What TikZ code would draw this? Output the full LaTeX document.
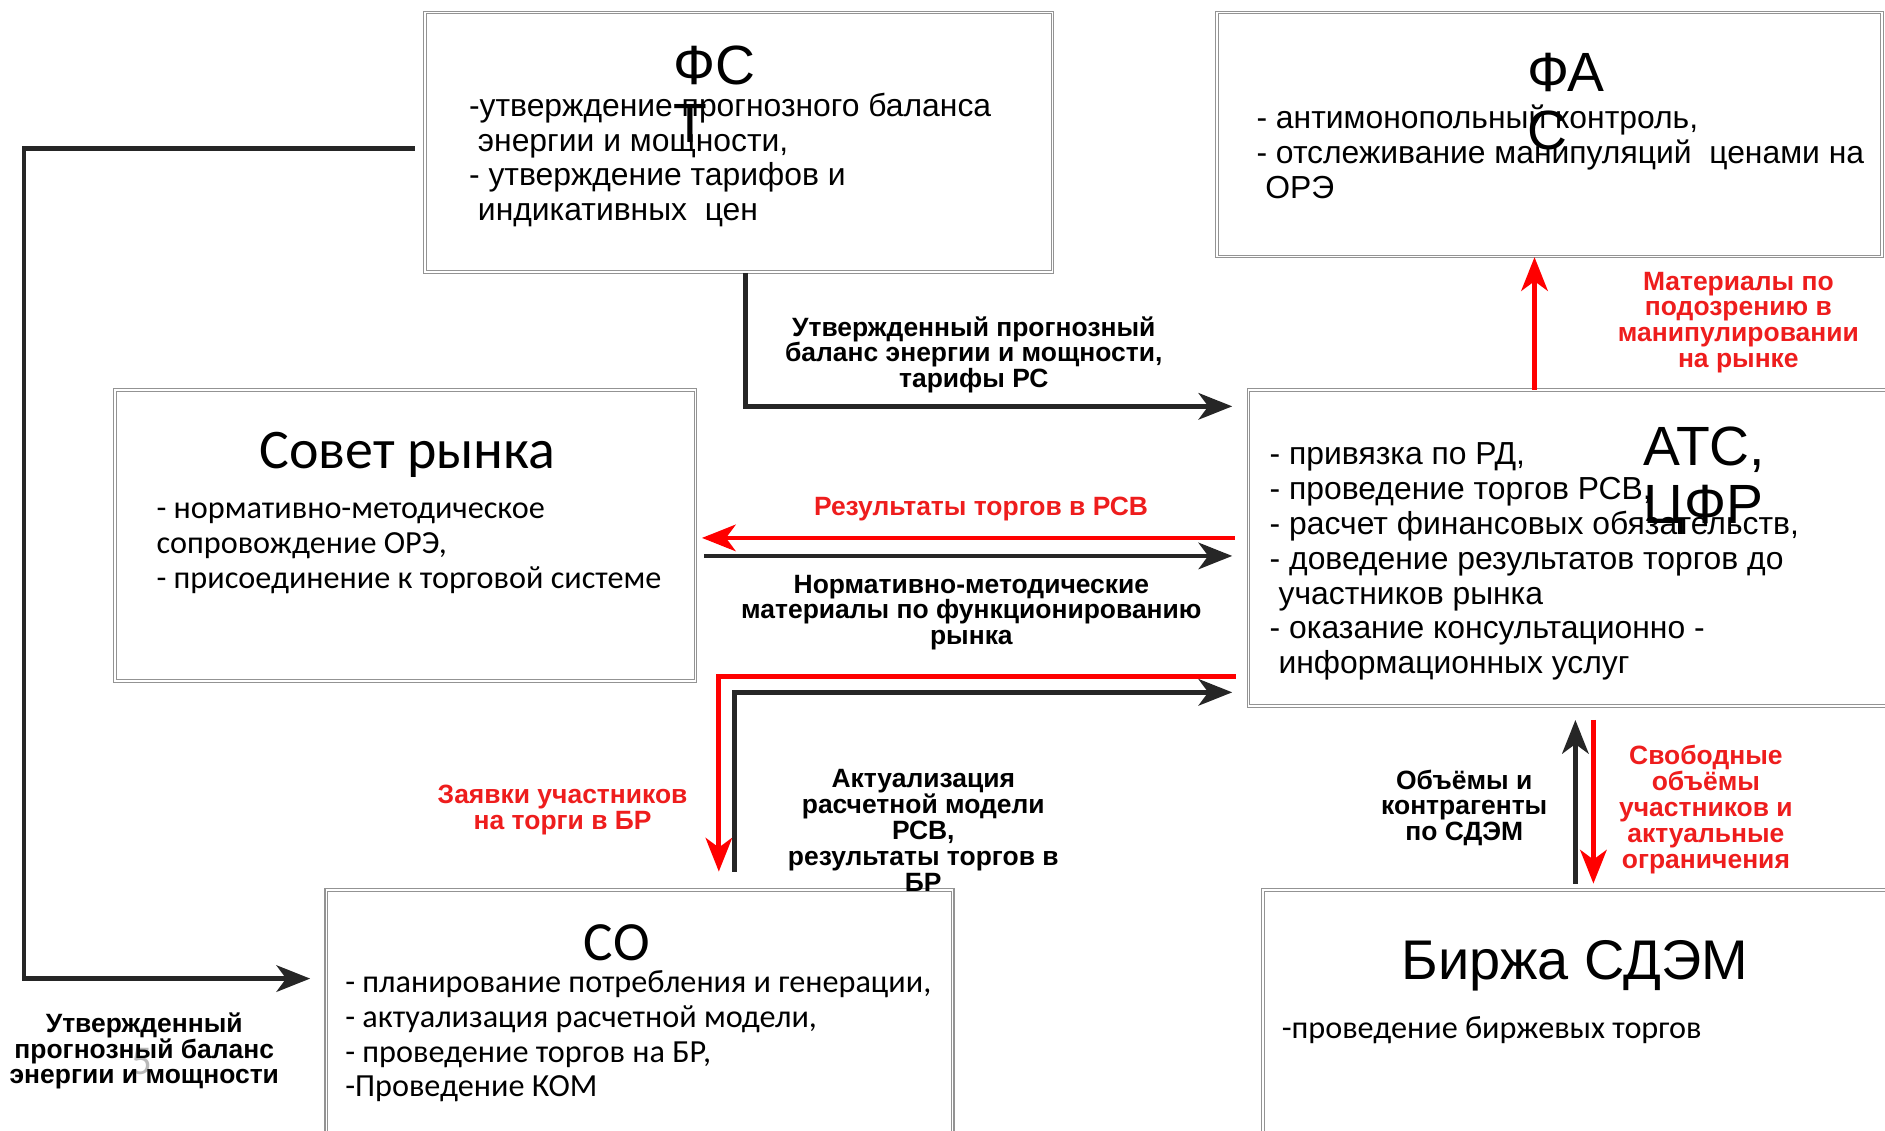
\documentclass[tikz,border=0pt]{standalone}
\usepackage{fontspec}
\setmainfont{Liberation Sans}
\newfontfamily\calib{Carlito}
\usetikzlibrary{arrows.meta}
\definecolor{arrblack}{HTML}{262626}
\definecolor{arrred}{HTML}{FF0000}
\definecolor{txtred}{HTML}{EE1D1D}
\tikzset{
	box/.style={draw=gray!85, line width=0.9pt, double=white, double distance=1.3pt, anchor=north west, inner sep=0pt},
	ttl/.style={font=\fontsize{46}{48}\selectfont, align=left, anchor=north west, inner sep=0pt},
	body/.style={font=\fontsize{26.5}{29}\selectfont, align=left, anchor=north west, inner sep=0pt},
	cbody/.style={font=\calib\fontsize{26.8}{29}\selectfont, align=left, anchor=north west, inner sep=0pt},
	lbl/.style={font=\bfseries\fontsize{22}{21.5}\selectfont, align=center, anchor=north, inner sep=0pt},
	lblred/.style={lbl, text=txtred},
	blk/.style={draw=arrblack, line width=4pt, -{Stealth[length=28pt,width=22pt,inset=8pt]}},
	rd/.style={blk, draw=arrred},
}

\begin{document}
\begin{tikzpicture}[x=1pt, y=-1pt]
	\useasboundingbox (0,0) rectangle (1568,940);
	
	\node[box, minimum width=522pt, minimum height=216pt] (fst) at (353,10) {};
	\node[box, minimum width=553pt, minimum height=203pt] (fas) at (1012,10) {};
	\node[box, minimum width=483pt, minimum height=242pt] (sovet) at (95,324) {};
	\node[box, minimum width=537pt, minimum height=263pt] (ats) at (1038,324) {};
	\node[box, minimum width=521pt, minimum height=220pt] (so) at (271,740) {};
	\node[box, minimum width=525pt, minimum height=220pt] (birzha) at (1050,740) {};
	
	\node[ttl] (fsttitle) at (560,38) {ФС\\Т};
	\node[body] (fstbody) at (390,77) {-утверждение прогнозного баланса\\\ энергии и мощности,\\- утверждение тарифов и\\\ индикативных\ \ цен};
	\node[ttl] (fastitle) at (1270,44) {ФА\\С};
	\node[body] (fasbody) at (1045,87) {- антимонопольный контроль,\\- отслеживание манипуляций\ \ ценами на\\\ ОРЭ};
	\node[font=\calib\fontsize{46.5}{48}\selectfont, anchor=north, inner sep=0pt] (sovettitle) at (339,359) {Совет рынка};
	\node[cbody] (sovetbody) at (130,418) {- нормативно-методическое\\сопровождение ОРЭ,\\- присоединение к торговой системе};
	\node[ttl] (atstitle) at (1367,355) {АТС,\\ЦФР};
	\node[body] (atsbody) at (1056,368) {- привязка по РД,\\- проведение торгов РСВ,\\- расчет финансовых обязательств,\\- доведение результатов торгов до\\\ участников рынка\\- оказание консультационно -\\\ информационных услуг};
	\node[font=\calib\fontsize{46}{48}\selectfont, anchor=north, inner sep=0pt] (sotitle) at (513,769) {СО};
	\node[cbody] (sobody) at (287,807) {- планирование потребления и генерации,\\- актуализация расчетной модели,\\- проведение торгов на БР,\\-Проведение КОМ};
	\node[font=\fontsize{46.5}{50}\selectfont, anchor=north, inner sep=0pt] (birzhatitle) at (1310,782) {Биржа СДЭМ};
	\node[cbody] (birzhabody) at (1066,845) {-проведение биржевых торгов};
	\node[font=\calib\fontsize{34}{36}\selectfont, text=gray!55, inner sep=0pt] (slidenum) at (118,883) {5};
	
	\coordinate (leftrail) at (20,814);
	\draw[blk, shorten >=13pt] ([xshift=6pt]fst.south) |- ([yshift=-14pt]ats.north west);
	\draw[blk, shorten >=13pt] ([xshift=-8pt,yshift=-5pt]fst.west) -| (leftrail) -- (leftrail -| so.west);
	\draw[rd, shorten <=11pt, shorten >=5pt] ([yshift=8.5pt]ats.west) -- ([yshift=8.5pt]ats.west -| sovet.east);
	\draw[blk, shorten <=7pt, shorten >=13pt] ([yshift=-6.5pt]sovet.east |- ats.west) -- ([yshift=-6.5pt]ats.west);
	\draw[rd, shorten <=10pt, shorten >=15pt] ([yshift=25pt]ats.south west) -| ([xshift=66pt]so.north);
	\draw[blk, shorten >=13pt] ([xshift=79pt,yshift=15pt]so.north) |- ([yshift=12pt]ats.south west);
	\draw[rd] ([xshift=-30.5pt]ats.north) -- ([xshift=-30.5pt]ats.north |- fas.south);
	\draw[blk, shorten <=5pt, shorten >=11pt] ([xshift=-2.5pt]birzha.north) -- ([xshift=-2.5pt]birzha.north |- ats.south);
	\draw[rd, shorten <=11pt, shorten >=5pt] ([xshift=12.5pt]birzha.north |- ats.south) -- ([xshift=12.5pt]birzha.north);
	
	\node[lbl] (fstlbl) at (810,263) {Утвержденный прогнозный\\баланс энергии и мощности,\\тарифы РС};
	\node[lbl] (solbl) at (120,842) {Утвержденный\\прогнозный баланс\\энергии и мощности};
	\node[lblred] (rsvlbl) at (816,413) {Результаты торгов в РСВ};
	\node[lbl] (normlbl) at (808,478) {Нормативно-методические\\материалы по функционированию\\рынка};
	\node[lblred] (zayavlbl) at (468,653) {Заявки участников\\на торги в БР};
	\node[lbl] (aktlbl) at (768,640) {Актуализация\\расчетной модели\\РСВ,\\результаты торгов в\\БР};
	\node[lblred] (manlbl) at (1446,226) {Материалы по\\подозрению в\\манипулировании\\на рынке};
	\node[lbl] (obemlbl) at (1218,640) {Объёмы и\\контрагенты\\по СДЭМ};
	\node[lblred] (svoblbl) at (1419,620) {Свободные\\объёмы\\участников и\\актуальные\\ограничения};
\end{tikzpicture}
\end{document}
